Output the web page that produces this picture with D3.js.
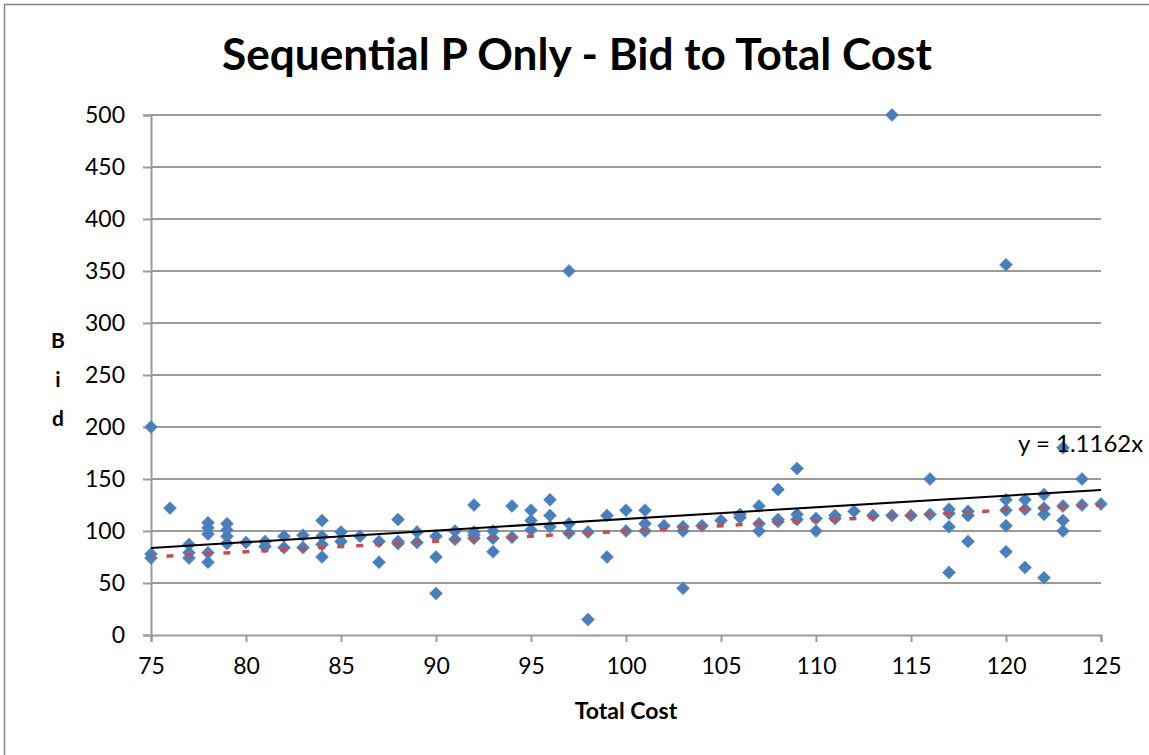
<!DOCTYPE html>
<html>
<head>
<meta charset="utf-8">
<script src="https://cdn.jsdelivr.net/npm/d3@7"></script>
<style>
  body { margin: 0; background: #fff; }
  text { font-family: Lato, "Open Sans", sans-serif; fill: #000; }
</style>
</head>
<body>
<div id="chart"></div>
<script>
// Total cost values and the bids seen at each cost
var costs = [75, 76, 77, 78, 79, 80, 81, 82, 83, 84, 85, 86, 87, 88, 89, 90,
  91, 92, 93, 94, 95, 96, 97, 98, 99, 100, 101, 102, 103, 104, 105, 106, 107,
  108, 109, 110, 111, 112, 113, 114, 115, 116, 117, 118, 120, 121, 122, 123, 124, 125];
var bids = [
  [200, 78, 74], [122], [87, 79, 74], [108, 103, 97, 79, 70], [107, 101, 95, 88],
  [89], [90, 85], [95, 84], [96, 84], [110, 95, 87, 75], [99, 90], [95], [90, 70],
  [111, 90, 88], [99, 89], [95, 75, 40], [100, 92], [125, 99, 96, 93], [100, 93, 80],
  [124, 94], [120, 110, 101], [130, 115, 104], [350, 107, 98], [99, 15], [115, 75],
  [120, 100], [120, 107, 100], [105], [104, 100, 45], [105], [110], [116, 113],
  [124, 107, 100], [140, 111, 109], [160, 116, 111], [112, 100], [115, 112], [119],
  [115], [500, 115], [115], [150, 116], [121, 117, 104, 60], [119, 115, 90],
  [356, 130, 120, 105, 80], [130, 121, 65], [135, 122, 116, 55], [180, 124, 110, 100],
  [150, 125], [126]
];
var xTicks = [75, 80, 85, 90, 95, 100, 105, 110, 115, 120, 125];
var yTicks = [0, 50, 100, 150, 200, 250, 300, 350, 400, 450, 500];
var trendSlope = 1.1162;   // black trendline through origin
var refSlope = 1;          // red dashed line
var trendLabel = "y = 1.1162x";

var points = [];
costs.forEach(function(c, i) {
  bids[i].forEach(function(b) { points.push({cost: c, bid: b}); });
});

var W = 1149, H = 755;
var margin = {top: 115, left: 151},
    width = 950, height = 520;

var svg = d3.select("#chart").append("svg")
  .attr("width", W).attr("height", H);

// outer chart border (cut off on right/bottom)
svg.append("rect")
  .attr("x", 4.5).attr("y", 4.5)
  .attr("width", W + 20).attr("height", H + 20)
  .attr("fill", "none").attr("stroke", "#868686").attr("stroke-width", 1.5);

svg.append("text")
  .attr("x", 577).attr("y", 70)
  .attr("text-anchor", "middle")
  .attr("font-size", 43).attr("font-weight", "bold")
  .attr("textLength", 710).attr("lengthAdjust", "spacingAndGlyphs")
  .text("Sequential P Only - Bid to Total Cost");

var g = svg.append("g")
  .attr("transform", "translate(" + margin.left + "," + margin.top + ")");

var x = d3.scaleLinear().domain([75, 125]).range([0, width]);
var y = d3.scaleLinear().domain([0, 500]).range([height, 0]);

// gridlines
g.append("g")
  .selectAll("line").data(yTicks.filter(function(d) { return d > 0; })).enter()
  .append("line")
  .attr("x1", 0).attr("x2", width)
  .attr("y1", function(d) { return y(d); }).attr("y2", function(d) { return y(d); })
  .attr("stroke", "#9a9a9a").attr("stroke-width", 2);

// y axis
var yAxis = g.append("g")
  .call(d3.axisLeft(y).tickValues(yTicks).tickSize(8).tickPadding(18));
yAxis.selectAll("line").attr("stroke", "#9a9a9a").attr("stroke-width", 2);
yAxis.select(".domain").attr("stroke", "#9a9a9a").attr("stroke-width", 2);
yAxis.selectAll("text").attr("font-size", 23).attr("font-family", "Lato");

// x axis
var xAxis = g.append("g")
  .attr("transform", "translate(0," + height + ")")
  .call(d3.axisBottom(x).tickValues(xTicks).tickSize(7).tickPadding(16));
xAxis.selectAll("line").attr("stroke", "#9a9a9a").attr("stroke-width", 2);
xAxis.select(".domain").attr("stroke", "#9a9a9a").attr("stroke-width", 2);
xAxis.selectAll("text").attr("font-size", 23).attr("font-family", "Lato");

// axis titles
svg.append("text")
  .attr("x", 626).attr("y", 719)
  .attr("text-anchor", "middle")
  .attr("font-size", 23).attr("font-weight", "bold")
  .text("Total Cost");

var yTitle = svg.append("text")
  .attr("text-anchor", "middle")
  .attr("font-size", 21).attr("font-weight", "bold");
["B", "i", "d"].forEach(function(ch, i) {
  yTitle.append("tspan").attr("x", 58).attr("y", 348 + i * 39).text(ch);
});

// points
g.append("g").selectAll("path").data(points).enter()
  .append("path")
  .attr("d", d3.symbol(d3.symbolSquare, 84))
  .attr("transform", function(d) {
    return "translate(" + x(d.cost) + "," + y(d.bid) + ") rotate(45)";
  })
  .attr("fill", "#4a7ebb")
  .attr("stroke", "#5b8cc8").attr("stroke-width", 0.6);

// lines
var line = d3.line().x(function(d) { return x(d[0]); }).y(function(d) { return y(d[1]); });
var dom = x.domain();

g.append("path")
  .datum(dom.map(function(c) { return [c, c * refSlope]; }))
  .attr("d", line)
  .attr("fill", "none").attr("stroke", "#c0504d").attr("stroke-width", 3.5)
  .attr("stroke-dasharray", "7 12").attr("stroke-dashoffset", 3.5);

g.append("path")
  .datum(dom.map(function(c) { return [c, c * trendSlope]; }))
  .attr("d", line)
  .attr("fill", "none").attr("stroke", "#000").attr("stroke-width", 2);

svg.append("text")
  .attr("x", 1018).attr("y", 452)
  .attr("font-size", 24)
  .text(trendLabel);
</script>
</body>
</html>
